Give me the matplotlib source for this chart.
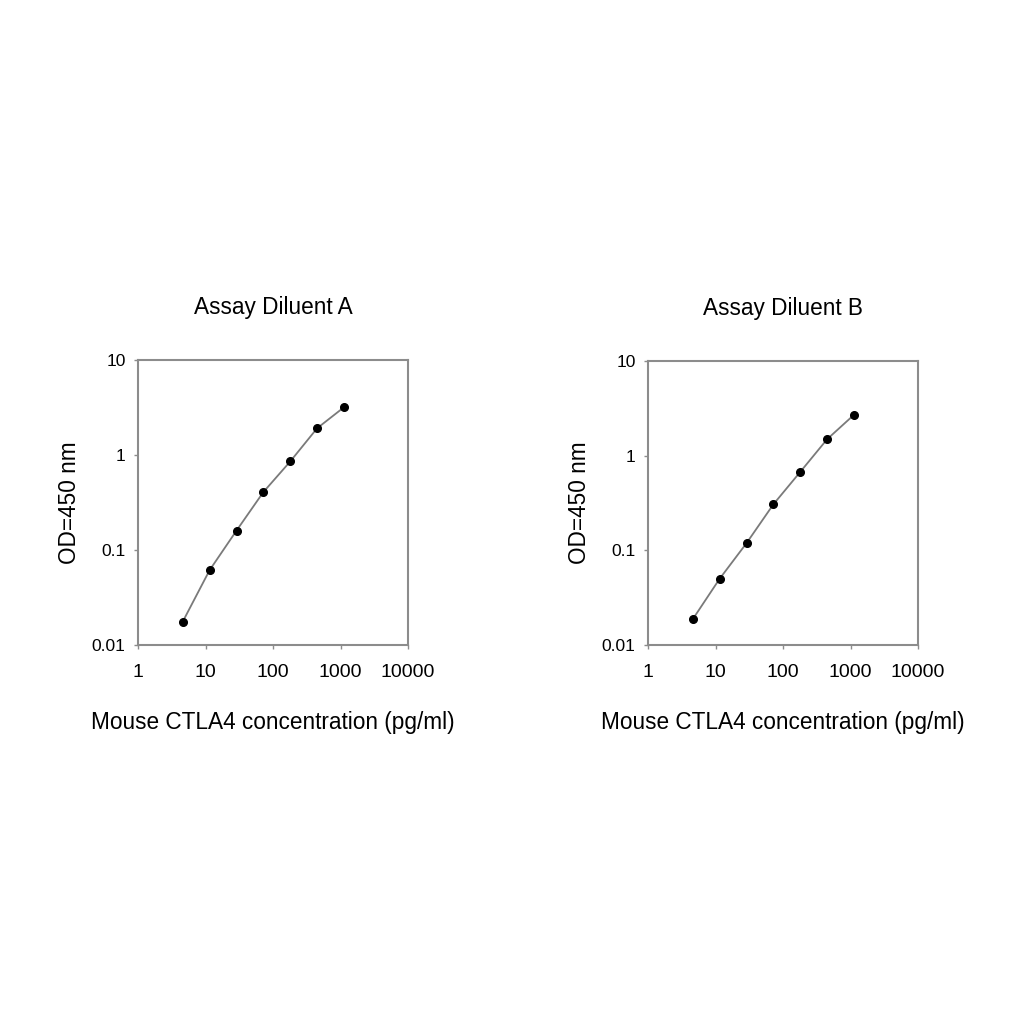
import matplotlib
matplotlib.use("Agg")
import matplotlib.pyplot as plt

plt.rcParams['font.family'] = ['Liberation Sans', 'DejaVu Sans']

conc = [4.6, 11.5, 28.8, 72, 180, 450, 1125]
od_a = [0.0176, 0.0613, 0.16, 0.407, 0.855, 1.91, 3.18]
od_b = [0.0187, 0.050, 0.119, 0.306, 0.673, 1.49, 2.70]
titles = ["Assay Diluent A", "Assay Diluent B"]
xlabel = "Mouse CTLA4 concentration (pg/ml)"
ylabel = "OD=450 nm"
xticks = [1, 10, 100, 1000, 10000]
xticklabels = ["1", "10", "100", "1000", "10000"]
yticks = [0.01, 0.1, 1, 10]
yticklabels = ["0.01", "0.1", "1", "10"]

fig = plt.figure(figsize=(10.24, 10.24), dpi=100)
W = H = 1024
positions = [(138, 360, 408, 645), (648, 361, 918, 645)]
spine_col = "#8c8c8c"

for (l, t, r, b), od, title in zip(positions, [od_a, od_b], titles):
    ax = fig.add_axes([l / W, 1 - b / H, (r - l) / W, (b - t) / H])
    ax.set_xscale("log")
    ax.set_yscale("log")
    ax.set_xlim(1, 10000)
    ax.set_ylim(0.01, 10)
    ax.plot(conc, od, color="#7a7a7a", lw=1.3, zorder=2)
    ax.plot(conc, od, "o", color="black", ms=5.5, zorder=3)
    ax.set_xticks(xticks)
    ax.set_xticklabels(xticklabels, fontsize=14)
    ax.set_yticks(yticks)
    ax.set_yticklabels(yticklabels, fontsize=12.5)
    ax.minorticks_off()
    ax.tick_params(axis="both", direction="out", length=3, color=spine_col, width=1)
    ax.tick_params(axis="x", pad=11)
    ax.tick_params(axis="y", pad=6)
    for s in ax.spines.values():
        s.set_color(spine_col)
        s.set_linewidth(1.5)
    ax.set_title(title, fontsize=16.3, pad=33)
    ax.set_xlabel(xlabel, fontsize=16.3, labelpad=21)
    ax.set_ylabel(ylabel, fontsize=16.3, labelpad=8)

fig.savefig("out.png", dpi=100, facecolor="white")
